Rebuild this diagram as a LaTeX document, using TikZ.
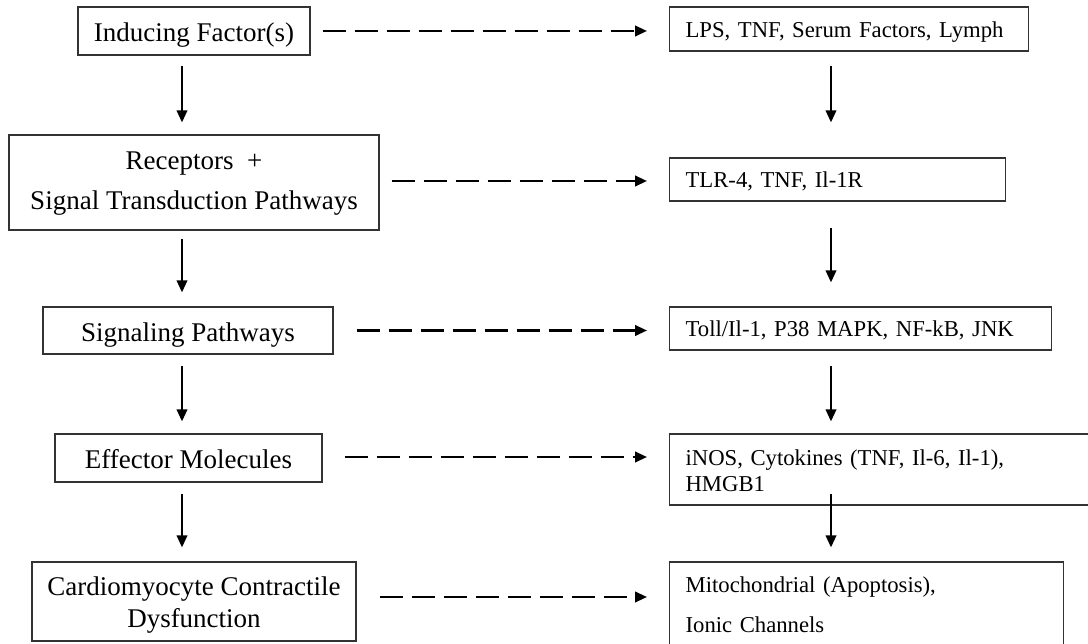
\documentclass[tikz,border=0pt]{standalone}
\usepackage{fontspec}
\setmainfont{Liberation Serif}
\usetikzlibrary{arrows.meta,calc}
\begin{document}
\begin{tikzpicture}[x=1pt,y=-1pt,
  box/.style={draw=black!80, line width=1.2pt, rectangle, inner sep=0pt},
  lbox/.style={box, align=center, font=\fontsize{27}{40}\selectfont},
  rbox/.style={box, align=left, inner xsep=16pt, inner ysep=0pt, anchor=west, font=\fontsize{22.7}{27}\selectfont},
  flow/.style={line width=2pt, -{Triangle[length=12pt,width=10.5pt]}},
  dflow/.style={line width=2.4pt, dash pattern=on 23pt off 9pt, -{Triangle[length=12pt,width=10.5pt]}, shorten >=22pt},
]
\useasboundingbox (0,0) rectangle (1088,644);
% left column
\node[lbox, minimum width=232pt, minimum height=48pt, text height=22pt, text depth=0pt] (L1) at (194,31) {Inducing Factor(s)};
\node[lbox, minimum width=370pt, minimum height=95pt, text height=55pt, text depth=0pt] (L2) at (194,182.5) {Receptors\ \ +\\Signal Transduction Pathways};
\node[lbox, minimum width=290pt, minimum height=47pt, text height=23pt, text depth=0pt] (L3) at (188,330.5) {Signaling Pathways};
\node[lbox, minimum width=267pt, minimum height=48pt, text height=20pt, text depth=0pt] (L4) at (188.5,458) {Effector Molecules};
\node[lbox, minimum width=324pt, minimum height=79pt, font=\fontsize{27}{32}\selectfont, text height=51pt, text depth=0pt] (L5) at (194,601.5) {Cardiomyocyte Contractile\\Dysfunction};
% right column
\node[rbox, text width=327pt, minimum height=44pt, text height=18pt, text depth=0pt] (R1) at (669,29) {LPS, TNF, Serum Factors, Lymph};
\node[rbox, text width=304pt, minimum height=43pt, text height=17pt, text depth=0pt] (R2) at (669,179.5) {TLR-4, TNF, Il-1R};
\node[rbox, text width=350pt, minimum height=43pt, text height=17pt, text depth=0pt] (R3) at (669,328.5) {Toll/Il-1, P38 MAPK, NF-kB, JNK};
\node[rbox, text width=399pt, minimum height=71pt, text height=0pt, text depth=9pt] (R4) at (669,469.5) {iNOS, Cytokines (TNF, Il-6, Il-1),\\HMGB1};
\node[rbox, text width=362pt, minimum height=86pt, font=\fontsize{22.7}{40}\selectfont, text height=0pt, text depth=26pt] (R5) at (669,605) {Mitochondrial (Apoptosis),\\Ionic Channels};
% axes of the vertical arrows
\coordinate (lx) at (182,0);
\coordinate (rx) at (831,0);
% left vertical arrows
\draw[flow, shorten <=10pt, shorten >=12pt] (L1.south -| lx) -- (L2.north -| lx);
\draw[flow, shorten <=8pt, shorten >=14pt] (L2.south -| lx) -- (L3.north -| lx);
\draw[flow, shorten <=11pt, shorten >=12pt] (L3.south -| lx) -- (L4.north -| lx);
\draw[flow, shorten <=11pt, shorten >=14pt] (L4.south -| lx) -- (L5.north -| lx);
% right vertical arrows
\draw[flow, shorten <=14pt, shorten >=35pt] (R1.south -| rx) -- (R2.north -| rx);
\draw[flow, shorten <=26pt, shorten >=24pt] (R2.south -| rx) -- (R3.north -| rx);
\draw[flow, shorten <=15pt, shorten >=12pt] (R3.south -| rx) -- (R4.north -| rx);
\draw[flow, shorten <=-12pt, shorten >=14pt] (R4.south -| rx) -- (R5.north -| rx);
% dashed arrows
\draw[dflow, shorten <=12pt] (L1.east) -- (L1.east -| R1.west);
\draw[dflow, shorten <=12pt] ([yshift=1.5pt]L2.east) -- ([yshift=1.5pt]L2.east -| R2.west);
\draw[dflow, shorten <=23pt] (L3.east) -- (L3.east -| R3.west);
\draw[dflow, shorten <=22pt] ([yshift=1pt]L4.east) -- ([yshift=1pt]L4.east -| R4.west);
\draw[dflow, shorten <=23pt] ([yshift=4.5pt]L5.east) -- ([yshift=4.5pt]L5.east -| R5.west);
\end{tikzpicture}
\end{document}
